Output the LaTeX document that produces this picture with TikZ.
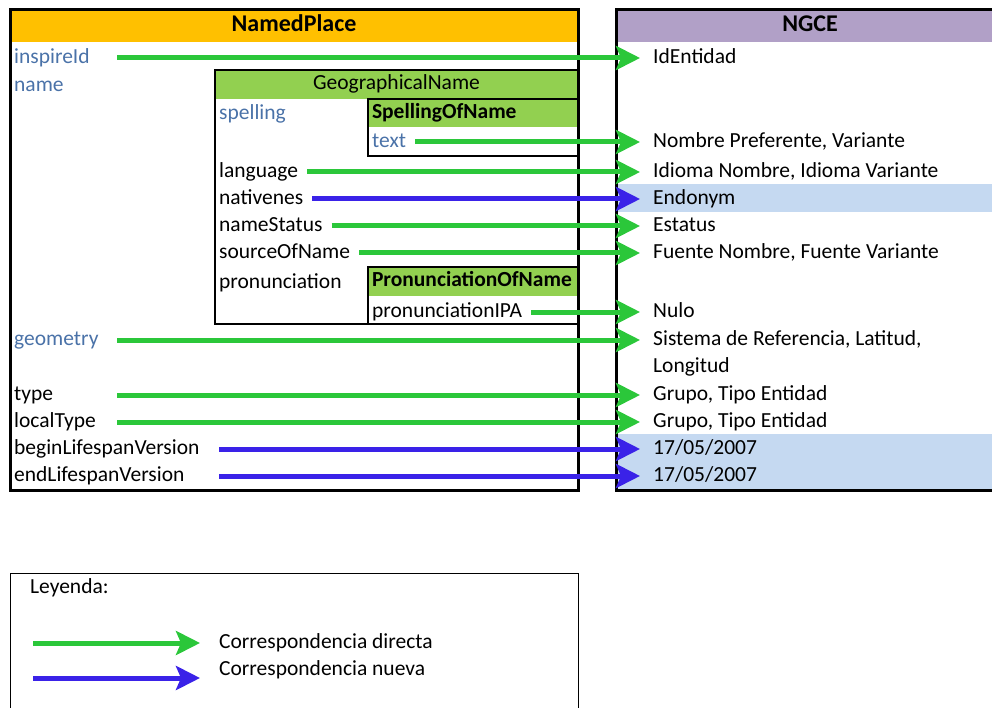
\documentclass[tikz,border=0pt]{standalone}
\usepackage{fontspec}
\setmainfont{Carlito}
\usetikzlibrary{arrows.meta}
\definecolor{np_orange}{HTML}{FFC000}
\definecolor{ngce_purple}{HTML}{B1A0C7}
\definecolor{gn_green}{HTML}{92D050}
\definecolor{row_blue}{HTML}{C5D9F1}
\definecolor{attr_blue}{HTML}{4A72A8}
\definecolor{map_green}{HTML}{2BC73A}
\definecolor{map_blue}{HTML}{3A22E8}
\tikzstyle{txt} = [font=\fontsize{21.5}{26}\selectfont, text height=15pt, text depth=4.5pt, inner ysep=0pt]
\tikzstyle{attr_plain} = [txt, anchor=west, inner xsep=9pt]
\tikzstyle{attr_link} = [attr_plain, text=attr_blue]
\tikzstyle{ngce_attr} = [txt, anchor=west, inner xsep=13pt]
\tikzstyle{head_box} = [txt, minimum height=32pt]
\tikzstyle{head_big} = [head_box, font=\fontsize{24}{28}\selectfont\bfseries]
\tikzstyle{sub_head} = [txt, fill=gn_green, text width=202pt, align=left, inner xsep=4pt]
\tikzstyle{frame_thick} = [line width=3pt]
\tikzstyle{frame_mid} = [line width=2.5pt]
\tikzstyle{map_direct} = [line width=5pt, draw=map_green, -{Stealth[length=24pt,width=24pt,inset=5pt]}]
\tikzstyle{map_new} = [line width=5pt, draw=map_blue, -{Stealth[length=24pt,width=24pt,inset=5pt]}]

\begin{document}
\begin{tikzpicture}[x=1pt,y=-1pt]
			\clip (0,0) rectangle (992,708);
			\fill[row_blue] (616,184) rectangle (1004,212);
			\fill[row_blue] (616,434) rectangle (1004,489);

			\node (NP) at (294,26) [head_big, fill=np_orange, minimum width=568pt] {NamedPlace};
			\node (NGCE) at (810,26) [head_big, fill=ngce_purple, minimum width=388pt] {NGCE};
			\node (GN) at (396.5,84.5) [head_box, fill=gn_green, minimum width=363pt, minimum height=29pt] {GeographicalName};
			\node (SON) at (473,113) [sub_head, minimum height=28pt] {\bfseries SpellingOfName};
			\node (PON) at (473,281.5) [sub_head, minimum height=29pt] {\bfseries PronunciationOfName};

			\draw[frame_thick] (10,10) rectangle (578,490);
			\draw[frame_thick] (1004,10) -- (616,10) -- (616,490) -- (1004,490);
			\draw[frame_mid] (215,70) rectangle (578,324);
			\draw[frame_mid] (368,99) rectangle (578,156);
			\draw[frame_mid] (368,267) rectangle (578,324);

			\node (inspireId) at (5,58) [attr_link] {inspireId};
			\node (name) at (5,86) [attr_link] {name};
			\node (spelling) at (210,114) [attr_link] {spelling};
			\node (text) at (363,142) [attr_link] {text};
			\node (language) at (210,172) [attr_plain] {language};
			\node (nativenes) at (210,199) [attr_plain] {nativenes};
			\node (nameStatus) at (210,226) [attr_plain] {nameStatus};
			\node (sourceOfName) at (210,253) [attr_plain] {sourceOfName};
			\node (pronunciation) at (210,283) [attr_plain] {pronunciation};
			\node (pronunciationIPA) at (363,312) [attr_plain] {pronunciationIPA};
			\node (geometry) at (5,340) [attr_link] {geometry};
			\node (type) at (5,395) [attr_plain] {type};
			\node (localType) at (5,422) [attr_plain] {localType};
			\node (beginLifespan) at (5,449) [attr_plain] {beginLifespanVersion};
			\node (endLifespan) at (5,476) [attr_plain] {endLifespanVersion};

			\node (IdEntidad) at (640,58) [ngce_attr] {IdEntidad};
			\node (Nombre) at (640,142) [ngce_attr] {Nombre Preferente, Variante};
			\node (Idioma) at (640,172) [ngce_attr] {Idioma Nombre, Idioma Variante};
			\node (Endonym) at (640,199) [ngce_attr] {Endonym};
			\node (Estatus) at (640,226) [ngce_attr] {Estatus};
			\node (Fuente) at (640,253) [ngce_attr] {Fuente Nombre, Fuente Variante};
			\node (Nulo) at (640,312) [ngce_attr] {Nulo};
			\node (Sistema) at (640,340) [ngce_attr] {Sistema de Referencia, Latitud,};
			\node (Longitud) at (640,367) [ngce_attr] {Longitud};
			\node (Grupo) at (640,395) [ngce_attr] {Grupo, Tipo Entidad};
			\node (GrupoLocal) at (640,422) [ngce_attr] {Grupo, Tipo Entidad};
			\node (FechaIni) at (640,449) [ngce_attr] {17/05/2007};
			\node (FechaFin) at (640,476) [ngce_attr] {17/05/2007};

			\coordinate (s_inspireId) at (117,58);
			\coordinate (s_geometry) at (117,340);
			\coordinate (s_type) at (117,395);
			\coordinate (s_localType) at (117,422);
			\coordinate (s_begin) at (219,449);
			\coordinate (s_end) at (219,476);

			\draw[map_direct] (s_inspireId) -- (IdEntidad.west);
			\draw[map_direct] (text.east) -- (Nombre.west);
			\draw[map_direct] (language.east) -- (Idioma.west);
			\draw[map_new] (nativenes.east) -- (Endonym.west);
			\draw[map_direct] (nameStatus.east) -- (Estatus.west);
			\draw[map_direct] (sourceOfName.east) -- (Fuente.west);
			\draw[map_direct] (pronunciationIPA.east) -- (Nulo.west);
			\draw[map_direct] (s_geometry) -- (Sistema.west);
			\draw[map_direct] (s_type) -- (Grupo.west);
			\draw[map_direct] (s_localType) -- (GrupoLocal.west);
			\draw[map_new] (s_begin) -- (FechaIni.west);
			\draw[map_new] (s_end) -- (FechaFin.west);

			\draw[line width=1pt] (10,573) rectangle (578,720);
			\node (Leyenda) at (25,588) [attr_plain, inner xsep=5pt] {Leyenda:};
			\node (directa) at (200,643) [attr_plain, inner xsep=19pt] {Correspondencia directa};
			\node (nueva) at (200,670) [attr_plain, inner xsep=19pt] {Correspondencia nueva};
			\coordinate (lg_direct) at (33,643);
			\coordinate (lg_new) at (33,678);
			\draw[map_direct] (lg_direct) -- (lg_direct -| directa.west);
			\draw[map_new] (lg_new) -- (lg_new -| nueva.west);
		\end{tikzpicture}
\end{document}
